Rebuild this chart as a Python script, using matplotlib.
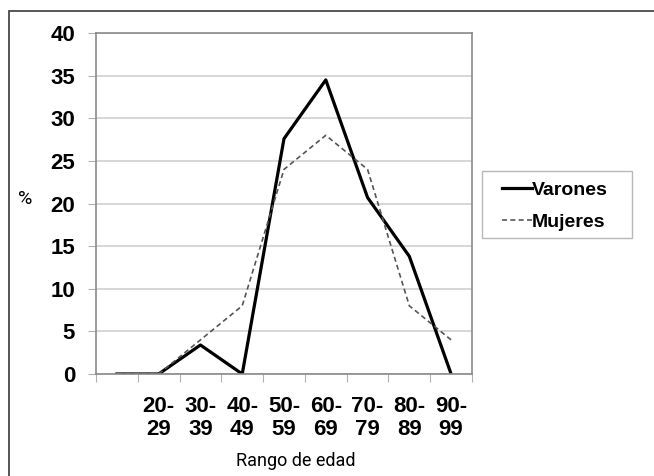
import matplotlib.pyplot as plt
from matplotlib.patches import Rectangle

# Datos (% por rango de edad)
categorias = ["", "20-\n29", "30-\n39", "40-\n49", "50-\n59", "60-\n69", "70-\n79", "80-\n89", "90-\n99"]
varones = [0, 0, 3.4, 0, 27.6, 34.5, 20.7, 13.8, 0]
mujeres = [0, 0, 4, 8, 24, 28, 24, 8, 4]
yticks = [0, 5, 10, 15, 20, 25, 30, 35, 40]

W, H = 654, 476
fig = plt.figure(figsize=(W / 100, H / 100), dpi=100)
ax = fig.add_axes([96 / W, 1 - 374 / H, (472 - 96) / W, (374 - 33) / H])

# marco exterior de la figura
fig.patches.append(Rectangle((9 / W, -0.2), 1.5, 1.2 - 11 / H, transform=fig.transFigure,
                             fill=False, edgecolor="#3a3a3a", lw=1.2))

x = range(len(categorias))
ax.plot(x, varones, color="black", lw=2.3, label="Varones")
ax.plot(x, mujeres, color="#555555", lw=1.2, dashes=(3, 2), label="Mujeres")

ax.set_xlim(-0.5, len(categorias) - 0.5)
ax.set_ylim(0, 40)
ax.set_yticks(yticks)
ax.yaxis.grid(True, color="#cfcfcf", lw=1.2)
ax.set_axisbelow(True)

bold = ["Liberation Sans", "DejaVu Sans"]
# ticks en los limites de categoria, etiquetas en el centro
ax.set_xticks([i - 0.5 for i in range(len(categorias) + 1)])
ax.set_xticklabels([])
ax.set_xticks(list(x), minor=True)
ax.set_xticklabels(categorias, minor=True, fontsize=16, fontweight="bold",
                   family=bold, linespacing=1.1)
ax.tick_params(axis="x", which="major", direction="out", length=6, color="#b0b0b0")
ax.tick_params(axis="x", which="minor", length=0, pad=16)
ax.tick_params(axis="y", direction="out", length=6, color="#b0b0b0", pad=9)
for lab in ax.get_yticklabels():
    lab.set_fontsize(16)
    lab.set_fontweight("bold")
    lab.set_family(bold)

for s in ax.spines.values():
    s.set_color("#8a8a8a")
    s.set_linewidth(1.2)

fig.text(296 / W, 1 - 461 / H, "Rango de edad", ha="center", va="center",
         fontsize=13, family=["Roboto", "DejaVu Sans"])
fig.text(25 / W, 1 - 199 / H, "%", ha="center", va="center", fontsize=14,
         family=["Roboto", "DejaVu Sans"])

# leyenda: recuadro propio + entradas sin marco
fig.patches.append(Rectangle((482 / W, 1 - 238 / H), 150 / W, 67 / H, transform=fig.transFigure,
                             fill=False, edgecolor="#b8b8b8", lw=1.0))
ax.legend(loc="center left", bbox_to_anchor=(502 / W, 1 - 206 / H),
          bbox_transform=fig.transFigure, borderaxespad=0, borderpad=0, frameon=False,
          handlelength=1.55, handletextpad=0.0, labelspacing=0.75,
          prop={"size": 14, "weight": "bold", "family": bold})

fig.savefig("out.png", dpi=100)
